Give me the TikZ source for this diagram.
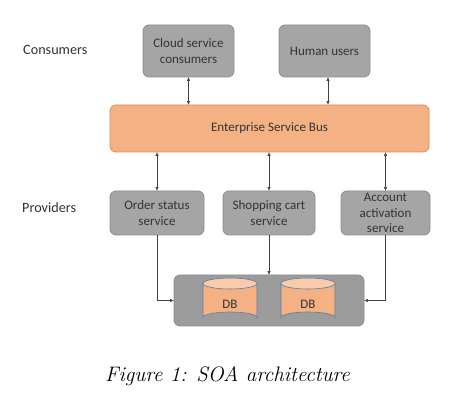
\documentclass[tikz,border=0pt]{standalone}
\usepackage{fontspec}
\setmainfont{Carlito}
\newfontfamily\capfont{Latin Modern Roman}
\usetikzlibrary{arrows.meta}
\definecolor{boxgray}{HTML}{A5A5A5}
\definecolor{boxline}{HTML}{8C8C8C}
\definecolor{contgray}{HTML}{9C9C9C}
\definecolor{esbfill}{HTML}{F4B183}
\definecolor{esbline}{HTML}{E08A55}
\definecolor{dbtop}{HTML}{F8CBAD}
\definecolor{dbline}{HTML}{5B7FA6}
\definecolor{txt}{HTML}{333333}
\definecolor{arr}{HTML}{404040}
\tikzset{
  gbox/.style={draw=boxline, line width=0.8pt, fill=boxgray, rounded corners=6pt,
    text=txt, align=center, font=\fontsize{13}{15.5}\selectfont, inner sep=0pt},
  lbl/.style={text=txt, font=\fontsize{14.2}{16}\selectfont, anchor=west, inner sep=0pt},
  conn/.style={draw=arr, line width=0.6pt},
  bi/.style={conn, {Triangle[length=3.5pt,width=3pt]}-{Triangle[length=3.5pt,width=3pt]}},
  uni/.style={conn, -{Triangle[length=3.5pt,width=3pt]}},
}
\begin{document}
\begin{tikzpicture}[x=1pt,y=-1pt]
\useasboundingbox[fill=white] (0,0) rectangle (464,401);
% labels
\node[lbl] (lcons) at (23,50) {Consumers};
\node[lbl] (lprov) at (22,208) {Providers};
% consumers
\node[gbox, minimum width=91pt, minimum height=52pt] (cloud) at (188.5,51) {Cloud service\\consumers};
\node[gbox, minimum width=91pt, minimum height=52pt] (human) at (324.5,51) {Human users};
% ESB
\node[gbox, draw=esbline, fill=esbfill, minimum width=319pt, minimum height=47pt] (esb) at (269.5,128.5) {Enterprise Service Bus};
% providers
\node[gbox, minimum width=94pt, minimum height=44pt] (order) at (157,213) {Order status\\service};
\node[gbox, minimum width=92pt, minimum height=44pt] (cart) at (269,213) {Shopping cart\\service};
\node[gbox, minimum width=89pt, minimum height=44pt] (acct) at (385.5,213) {Account\\activation\\service};
% container
\node[gbox, draw=boxline, fill=contgray, minimum width=190pt, minimum height=51pt] (cont) at (269,300.5) {};
% DB cylinders
\foreach \cx/\nm in {230/db1, 308/db2}{
  \fill[esbfill] (\cx-27,283.5) -- (\cx-27,317.5) arc[start angle=180,end angle=360,x radius=27,y radius=5.5] -- (\cx+27,283.5) -- cycle;
  \fill[dbtop] (\cx,283.5) ellipse[x radius=27,y radius=5.5];
  \draw[dbline, line width=0.6pt] (\cx-27,283.5) -- (\cx-27,317.5) arc[start angle=180,end angle=360,x radius=27,y radius=5.5] -- (\cx+27,283.5);
  \draw[dbline, line width=0.6pt] (\cx,283.5) ellipse[x radius=27,y radius=5.5];
  \node[text=txt, font=\fontsize{13}{15}\selectfont] (\nm) at (\cx,304) {DB};
}
% connectors
\draw[bi] (cloud.south) -- (cloud.south |- esb.north);
\draw[bi] (human.south) ++(3.5,0) coordinate (hs) -- (hs |- esb.north);
\draw[bi] (esb.south -| order.north) -- (order.north);
\draw[bi] (esb.south -| cart.north) -- (cart.north);
\draw[bi] (esb.south -| acct.north) -- (acct.north);
\draw[uni] (order.south) |- (cont.west);
\draw[uni] (cart.south) -- (cont.north);
\draw[uni] (acct.south) |- (cont.east);
% caption
\node[font=\capfont\itshape\fontsize{21}{24}\selectfont, text=black] (cap) at (227.5,376) {Figure 1: SOA architecture};
\end{tikzpicture}
\end{document}
